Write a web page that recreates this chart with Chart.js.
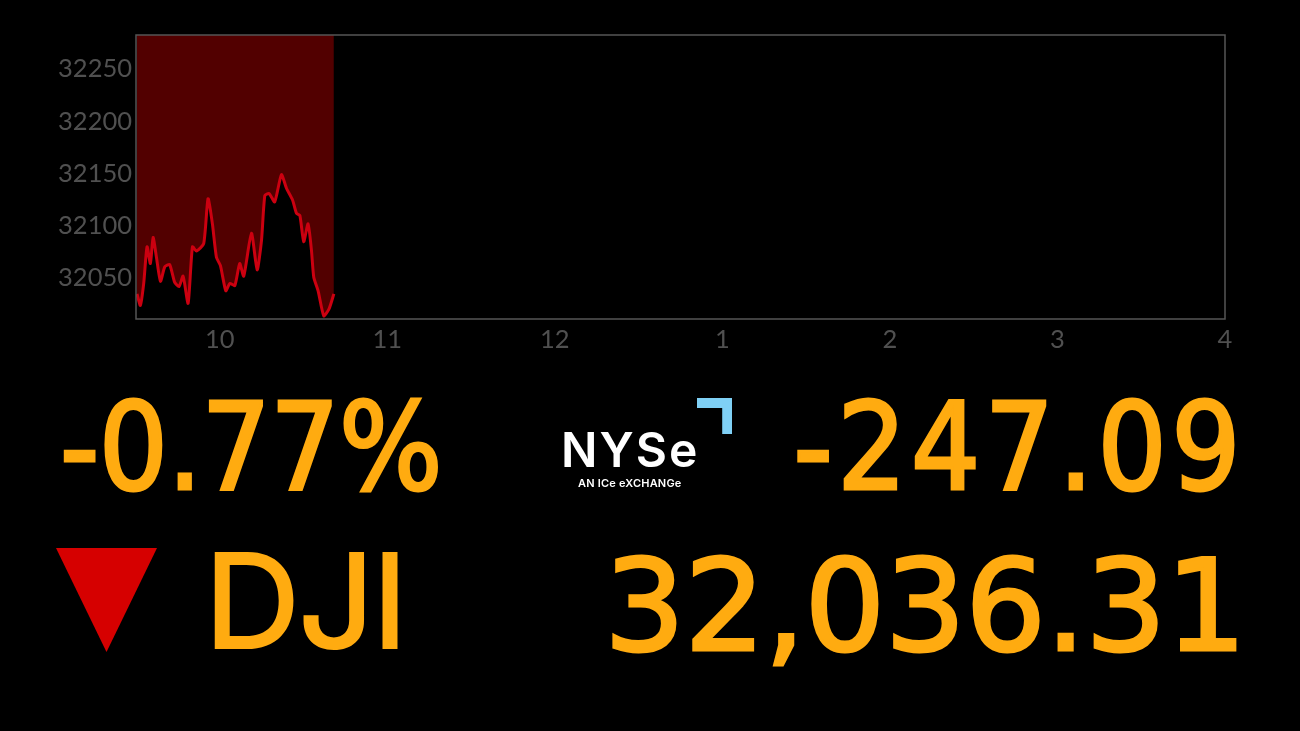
<!DOCTYPE html>
<html>
<head>
<meta charset="utf-8">
<title>DJI</title>
<script src="https://cdn.jsdelivr.net/npm/chart.js@4"></script>
<style>
    html, body { margin: 0; padding: 0; background: #000; width: 1300px; height: 731px; overflow: hidden; }
    #chart { position: absolute; left: 0; top: 0; }
    .big { position: absolute; color: #ffab10; font-family: "DejaVu Sans", sans-serif; white-space: nowrap; -webkit-text-stroke: 3px #ffab10; }
    .cond { font-family: "DejaVu Sans Condensed", "DejaVu Sans", sans-serif; font-stretch: condensed; }
    #pct { left: 60px; top: 373px; font-size: 121px; line-height: 150px; letter-spacing: -0.5px; }
    #change { right: 55px; top: 373px; font-size: 121px; line-height: 150px; letter-spacing: 4.5px; }
    #name { left: 204px; top: 525px; font-family: Inter, sans-serif; font-weight: 500; font-size: 134px; line-height: 150px; letter-spacing: -3px; -webkit-text-stroke: 0; }
    #price { right: 54px; top: 531px; font-size: 127px; line-height: 150px; letter-spacing: -0.5px; }
    #arrow { position: absolute; left: 56px; top: 548px; width: 101px; height: 104px; background: #d60000; clip-path: polygon(0 0, 100% 0, 50% 100%); }
    #corner { position: absolute; left: 697px; top: 398px; width: 35px; height: 36px; background: #7fd0f5; clip-path: polygon(0 0, 100% 0, 100% 100%, 72% 100%, 72% 28%, 0 28%); }
    #nyse { position: absolute; left: 561px; top: 421px; color: #fff; font-family: Inter, sans-serif; font-weight: 600; font-size: 48px; line-height: 58px; letter-spacing: 2px; }
    #ice { position: absolute; left: 578px; top: 476px; color: #fff; font-family: Inter, sans-serif; font-weight: 600; font-size: 11px; line-height: 14px; white-space: nowrap; letter-spacing: 0.2px; }
</style>
</head>
<body>
<canvas id="chart" width="1300" height="731"></canvas>
<div class="big cond" id="pct">-0.77%</div>
<div class="big cond" id="change">-247.09</div>
<div class="big" id="name">DJI</div>
<div class="big" id="price">32,036.31</div>
<div id="arrow"></div>
<div id="corner"></div>
<div id="nyse">NYSe</div>
<div id="ice">AN ICe eXCHANGe</div>
<script>
// Values
const times = [9.506, 9.526, 9.546, 9.566, 9.586, 9.602, 9.622, 9.646, 9.672, 9.701, 9.731, 9.757, 9.781, 9.811, 9.837,
    9.861, 9.904, 9.930, 9.956, 9.980, 10.004, 10.036, 10.060, 10.090, 10.119, 10.143, 10.189, 10.223, 10.249, 10.269,
    10.294, 10.328, 10.368, 10.398, 10.434, 10.458, 10.478, 10.501, 10.527, 10.547, 10.561, 10.587, 10.621, 10.653, 10.681];
const prices = [32035, 32024, 32045, 32080, 32064, 32089, 32070, 32047, 32061, 32063, 32046, 32042, 32052, 32026, 32080,
    32076, 32083, 32126, 32102, 32070, 32062, 32038, 32045, 32043, 32064, 32052, 32093, 32058, 32086, 32129,
    32131, 32123, 32149, 32136, 32125, 32112, 32110, 32085, 32102, 32077, 32051, 32038, 32014, 32021, 32035];
const yTicks = [32050, 32100, 32150, 32200, 32250];
const xTicks = [10, 11, 12, 13, 14, 15, 16];
const xLabels = ['10', '11', '12', '1', '2', '3', '4'];

// Frame around the plot area
const frame = {
    id: 'frame',
    afterDatasetsDraw(chart) {
        const { ctx, chartArea: a } = chart;
        ctx.save();
        ctx.strokeStyle = '#565656';
        ctx.lineWidth = 1.5;
        ctx.strokeRect(a.left, a.top, a.right - a.left, a.bottom - a.top);
        ctx.restore();
    }
};

new Chart(document.getElementById('chart'), {
    type: 'line',
    data: {
        datasets: [{
            data: times.map((t, i) => ({ x: t, y: prices[i] })),
            borderColor: '#cc0010',
            borderWidth: 3,
            backgroundColor: '#520000',
            fill: 'end',
            tension: 0.2,
            pointRadius: 0
        }]
    },
    options: {
        responsive: false,
        animation: false,
        layout: { padding: { top: 35, right: 75 } },
        plugins: { legend: { display: false }, tooltip: { enabled: false } },
        scales: {
            x: {
                type: 'linear',
                min: 9.5,
                max: 16,
                grid: { display: false, drawTicks: false },
                border: { display: false },
                afterBuildTicks: axis => { axis.ticks = xTicks.map(v => ({ value: v })); },
                afterFit: axis => { axis.height = 412; },
                ticks: {
                    color: '#505050',
                    font: { family: 'Lato', size: 25.5, weight: 400 },
                    padding: 5,
                    maxRotation: 0,
                    autoSkip: false,
                    callback: v => xLabels[xTicks.indexOf(v)]
                }
            },
            y: {
                min: 32011,
                max: 32282.5,
                grid: { display: false, drawTicks: false },
                border: { display: false },
                afterBuildTicks: axis => { axis.ticks = yTicks.map(v => ({ value: v })); },
                afterFit: axis => { axis.width = 136; },
                ticks: {
                    color: '#505050',
                    font: { family: 'Lato', size: 25.5, weight: 400 },
                    padding: 4,
                    callback: v => String(v)
                }
            }
        }
    },
    plugins: [frame]
});
</script>
</body>
</html>
